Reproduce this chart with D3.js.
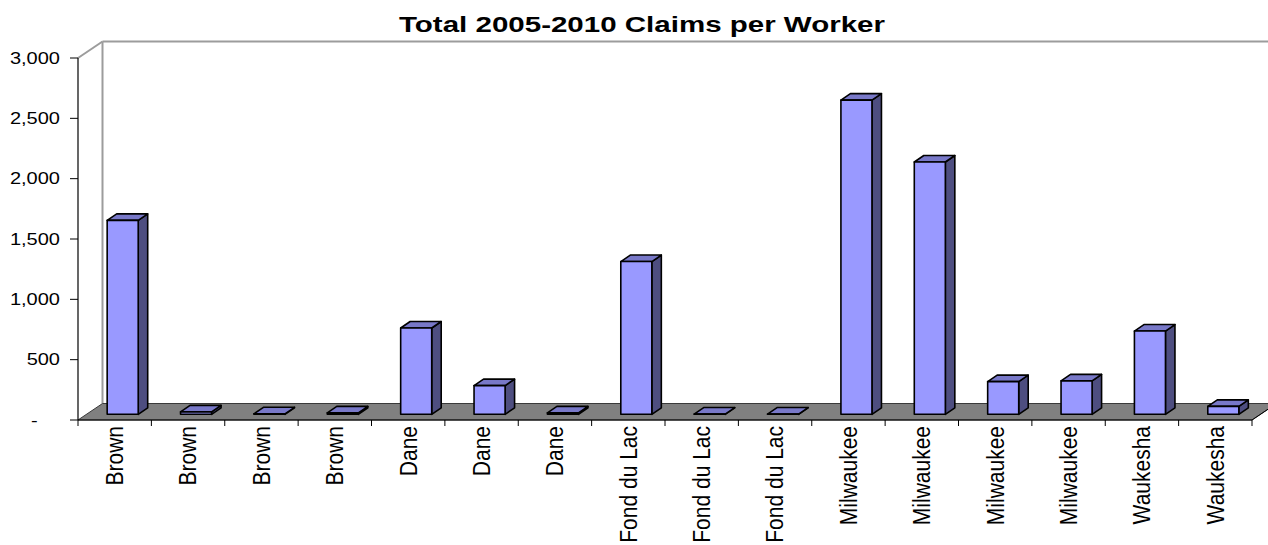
<!DOCTYPE html>
<html>
<head>
<meta charset="utf-8">
<script src="https://cdn.jsdelivr.net/npm/d3@7"></script>
<style>
  html, body { margin: 0; padding: 0; background: #fff; }
  svg { display: block; font-family: "Liberation Sans", Arial, sans-serif; }
</style>
</head>
<body>
<svg id="chart" width="1268" height="545"></svg>
<script>
// Chart data
const title = "Total 2005-2010 Claims per Worker";
const counties = ["Brown", "Brown", "Brown", "Brown", "Dane", "Dane", "Dane",
  "Fond du Lac", "Fond du Lac", "Fond du Lac", "Milwaukee", "Milwaukee",
  "Milwaukee", "Milwaukee", "Waukesha", "Waukesha"];
const claimsPerWorker = [1607, 20, 4, 12, 715, 238, 12, 1266, 2, 2, 2604, 2091, 271, 277, 690, 66];
const yTickValues = [0, 500, 1000, 1500, 2000, 2500, 3000];

// Plot geometry (oblique 3-D projection)
const x0 = 78, x1 = 1252, yBase = 420, yTop = 58;
const depth = { x: 24.5, y: -16.5 };     // floor / wall depth
const barFront = { x: 8, y: -5.7 };     // bar front plane offset into the depth
const barDepth = { x: 9.5, y: -6.5 };   // thickness of each column

const svg = d3.select("#chart");

const x = d3.scaleBand()
  .domain(d3.range(counties.length))
  .range([x0, x1])
  .paddingInner(0.577)
  .paddingOuter(0.2885);

const y = d3.scaleLinear().domain([0, 3000]).range([yBase, yTop]);

const step = x.step();
const w = x.bandwidth();

// Accounting-style format: zero shown as a dash padded by two digit spaces
const fmt = v => v === 0 ? "-\u2007\u2007" : d3.format(",")(v);

// Walls
const wallColor = "#9c9c9c";
svg.append("line")
  .attr("x1", x0 + depth.x).attr("y1", y(3000) + depth.y)
  .attr("x2", x0 + depth.x).attr("y2", yBase + depth.y)
  .attr("stroke", wallColor).attr("stroke-width", 2);
svg.append("line")
  .attr("x1", x0 + depth.x).attr("y1", y(3000) + depth.y)
  .attr("x2", x1 + depth.x + 40).attr("y2", y(3000) + depth.y)
  .attr("stroke", wallColor).attr("stroke-width", 2);
svg.append("line")
  .attr("x1", x0).attr("y1", y(3000))
  .attr("x2", x0 + depth.x).attr("y2", y(3000) + depth.y)
  .attr("stroke", wallColor).attr("stroke-width", 2);

// Floor
svg.append("polygon")
  .attr("points", [
    [x0, yBase], [x1, yBase], [x1 + depth.x, yBase + depth.y], [x0 + depth.x, yBase + depth.y]
  ].map(p => p.join(",")).join(" "))
  .attr("fill", "#808080")
  .attr("stroke", "#3a3a3a").attr("stroke-width", 1);

// Columns
const bars = svg.append("g").attr("stroke", "#000").attr("stroke-width", 1.6)
  .attr("stroke-linejoin", "round");

claimsPerWorker.forEach((v, i) => {
  const bx = x(i) + barFront.x;
  const b0 = yBase + barFront.y;
  const bt = y(v) + barFront.y;
  const g = bars.append("g");
  // side face
  g.append("polygon")
    .attr("points", [
      [bx + w, bt], [bx + w + barDepth.x, bt + barDepth.y],
      [bx + w + barDepth.x, b0 + barDepth.y], [bx + w, b0]
    ].map(p => p.join(",")).join(" "))
    .attr("fill", "#4e4e80");
  // top face
  g.append("polygon")
    .attr("points", [
      [bx, bt], [bx + w, bt], [bx + w + barDepth.x, bt + barDepth.y], [bx + barDepth.x, bt + barDepth.y]
    ].map(p => p.join(",")).join(" "))
    .attr("fill", "#7878c8");
  // front face
  g.append("rect")
    .attr("x", bx).attr("y", bt)
    .attr("width", w).attr("height", Math.max(0, b0 - bt))
    .attr("fill", "#9999ff");
});

// Value axis
svg.append("line")
  .attr("x1", x0).attr("y1", y(3000)).attr("x2", x0).attr("y2", yBase)
  .attr("stroke", "#000").attr("stroke-width", 1.2);
const yAxis = svg.append("g");
yTickValues.forEach(v => {
  yAxis.append("line")
    .attr("x1", x0 - 8).attr("x2", x0).attr("y1", y(v)).attr("y2", y(v))
    .attr("stroke", "#000").attr("stroke-width", 1);
  yAxis.append("text")
    .attr("transform", `translate(60,${y(v)}) scale(1.25,1)`)
    .attr("dy", "0.36em")
    .attr("text-anchor", "end")
    .attr("font-size", 16)
    .attr("fill", "#000")
    .text(fmt(v));
});

// Category axis
svg.append("line")
  .attr("x1", x0).attr("y1", yBase).attr("x2", x1).attr("y2", yBase)
  .attr("stroke", "#000").attr("stroke-width", 1.2);
svg.append("line")
  .attr("x1", x1).attr("y1", yBase).attr("x2", x1 + depth.x).attr("y2", yBase + depth.y)
  .attr("stroke", "#000").attr("stroke-width", 1);
const xAxis = svg.append("g");
d3.range(counties.length + 1).forEach(i => {
  const tx = x0 + i * step;
  xAxis.append("line")
    .attr("x1", tx).attr("x2", tx).attr("y1", yBase).attr("y2", yBase + 6)
    .attr("stroke", "#000").attr("stroke-width", 1);
});
counties.forEach((c, i) => {
  const cx = x(i) + w / 2;
  xAxis.append("text")
    .attr("transform", `translate(${cx},${yBase + 6}) scale(1.1,1) rotate(-90)`)
    .attr("dy", "0.36em")
    .attr("text-anchor", "end")
    .attr("font-size", 21)
    .attr("fill", "#000")
    .text(c);
});

// Title
svg.append("text")
  .attr("x", 642).attr("y", 32)
  .attr("text-anchor", "middle")
  .attr("font-size", 22)
  .attr("font-weight", "bold")
  .attr("textLength", 486)
  .attr("lengthAdjust", "spacingAndGlyphs")
  .text(title);
</script>
</body>
</html>
